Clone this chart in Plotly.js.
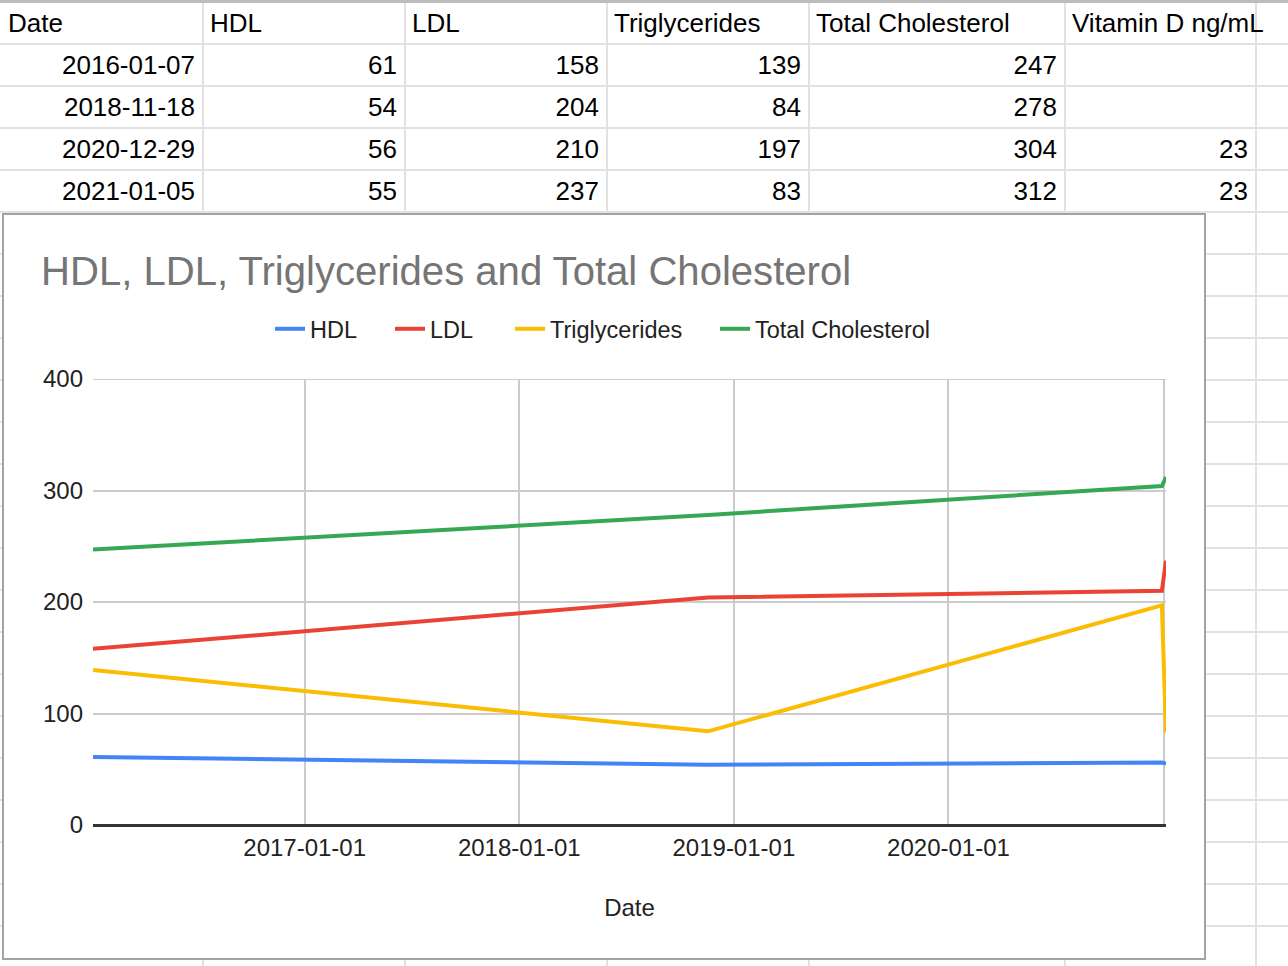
<!DOCTYPE html>
<html>
<head>
<meta charset="utf-8">
<script src="https://cdn.plot.ly/plotly-3.0.1.min.js"></script>
<style>
  html, body { margin: 0; padding: 0; background: #ffffff; overflow: hidden; }
  #sheet { position: absolute; left: 0; top: 0; width: 1288px; height: 966px; }
  #chartBox { position: absolute; left: 2px; top: 213px; width: 1204px; height: 747px;
              box-sizing: border-box; border: 2px solid #a3a3a3; background: #ffffff; }
  #chart { width: 1200px; height: 743px; }
</style>
</head>
<body>
<div id="sheet"></div>
<div id="chartBox"><div id="chart"></div></div>
<script>
// ---- data ----
const dates = ['2016-01-07', '2018-11-18', '2020-12-29', '2021-01-05'];
const hdl = [61, 54, 56, 55];
const ldl = [158, 204, 210, 237];
const triglycerides = [139, 84, 197, 83];
const totalCholesterol = [247, 278, 304, 312];
const vitaminD = [null, null, 23, 23];
const headers = ['Date', 'HDL', 'LDL', 'Triglycerides', 'Total Cholesterol', 'Vitamin D ng/mL'];
const seriesNames = ['HDL', 'LDL', 'Triglycerides', 'Total Cholesterol'];
const xTickVals = ['2017-01-01', '2018-01-01', '2019-01-01', '2020-01-01', '2021-01-01'];
const xTickText = ['2017-01-01', '2018-01-01', '2019-01-01', '2020-01-01', ''];
const yTickVals = [0, 100, 200, 300, 400];
const yTickText = ['0', '100', '200', '300', '400'];
const chartTitle = 'HDL, LDL, Triglycerides and Total Cholesterol';
const xAxisTitle = 'Date';

// ---- spreadsheet layout (positions, not data) ----
const FONT = 'Liberation Sans, Arial, sans-serif';
const colEdges = [1, 203, 405, 607, 809, 1065, 1256, 1288];
const rowTop = 1.5, rowH = 42, nRows = 24, textShift = 3;
const rowEdges = [];
for (let k = 0; k < nRows; k++) rowEdges.push(rowTop + k * rowH);

const sheetTraces = [];
sheetTraces.push({
  type: 'scatter', mode: 'text', hoverinfo: 'skip', showlegend: false,
  x: headers.map((h, i) => colEdges[i] + 7),
  y: headers.map(() => rowTop + rowH / 2 + textShift),
  text: headers, textposition: 'middle right',
  textfont: { family: FONT, size: 26, color: '#000000' }
});
const columns = [dates, hdl, ldl, triglycerides, totalCholesterol, vitaminD];
columns.forEach((col, i) => {
  sheetTraces.push({
    type: 'scatter', mode: 'text', hoverinfo: 'skip', showlegend: false,
    x: col.map(() => colEdges[i + 1] - 8),
    y: col.map((v, r) => rowTop + rowH * (r + 1) + rowH / 2 + textShift),
    text: col.map(v => (v === null ? '' : String(v))),
    textposition: 'middle left',
    textfont: { family: FONT, size: 26, color: '#000000' }
  });
});

Plotly.newPlot('sheet', sheetTraces, {
  width: 1288, height: 966,
  margin: { l: 0, r: 0, t: 0, b: 0 },
  paper_bgcolor: '#ffffff', plot_bgcolor: '#ffffff',
  showlegend: false,
  xaxis: { range: [0, 1288], tickvals: colEdges.slice(0, 7), showticklabels: false, ticks: '',
           showgrid: true, gridcolor: '#e1e1e1', gridwidth: 2, zeroline: false, fixedrange: true },
  yaxis: { range: [966, 0], tickvals: rowEdges, showticklabels: false, ticks: '',
           showgrid: true, gridcolor: '#e1e1e1', gridwidth: 2, zeroline: false, fixedrange: true },
  shapes: [
    { type: 'line', xref: 'paper', yref: 'paper', x0: 0, x1: 1, y0: 0.9985, y1: 0.9985,
      line: { color: '#bdbdbd', width: 3 } }
  ]
}, { staticPlot: true, displayModeBar: false });

// ---- chart ----
const colors = ['#4285f4', '#ea4335', '#fbbc04', '#34a853'];
const legendIds = ['legend', 'legend2', 'legend3', 'legend4'];
const legendSwatchX = [271, 391, 511, 716];   // px inside the chart box
const seriesValues = [hdl, ldl, triglycerides, totalCholesterol];
const traces = seriesValues.map((vals, i) => ({
  type: 'scatter', mode: 'lines', name: seriesNames[i],
  x: dates, y: vals, legend: legendIds[i],
  line: { color: colors[i], width: 4 },
  hoverinfo: 'skip'
}));

const layout = {
  width: 1200, height: 743,
  margin: { l: 89, r: 38, t: 164, b: 133 },
  paper_bgcolor: '#ffffff', plot_bgcolor: '#ffffff',
  font: { family: FONT, color: '#222222' },
  title: {
    text: chartTitle, xref: 'container', yref: 'container',
    x: 37 / 1200, xanchor: 'left', y: 1 - 56 / 743, yanchor: 'middle',
    font: { family: FONT, size: 40.1, color: '#757575' }
  },
  showlegend: true,
  xaxis: {
    type: 'date', range: [dates[0], dates[dates.length - 1]],
    tickmode: 'array', tickvals: xTickVals, ticktext: xTickText,
    showgrid: true, gridcolor: '#cccccc', gridwidth: 2,
    zeroline: false, showline: false, ticks: '', ticklabelstandoff: 6,
    tickfont: { family: FONT, size: 24, color: '#222222' },
    title: { text: xAxisTitle, standoff: 39, font: { family: FONT, size: 24, color: '#222222' } },
    fixedrange: true
  },
  yaxis: {
    range: [0, 400], tickmode: 'array', tickvals: yTickVals, ticktext: yTickText,
    showgrid: true, gridcolor: '#cccccc', gridwidth: 2,
    zeroline: true, zerolinecolor: '#333333', zerolinewidth: 3,
    showline: false, ticks: '', ticklabelstandoff: 9,
    tickfont: { family: FONT, size: 24, color: '#222222' },
    fixedrange: true
  },
  shapes: [
    { type: 'line', xref: 'paper', yref: 'y', x0: 0, x1: 1, y0: yTickVals[yTickVals.length - 1],
      y1: yTickVals[yTickVals.length - 1], layer: 'below', line: { color: '#cccccc', width: 2 } }
  ]
};
legendIds.forEach((id, i) => {
  layout[id] = {
    orientation: 'h', xref: 'container', yref: 'container',
    x: (legendSwatchX[i] - 5) / 1200, xanchor: 'left', y: 1 - 114 / 743, yanchor: 'middle',
    font: { family: FONT, size: 23.5, color: '#222222' },
    bgcolor: 'rgba(0,0,0,0)', borderwidth: 0, itemclick: false, itemdoubleclick: false
  };
});

Plotly.newPlot('chart', traces, layout, { staticPlot: true, displayModeBar: false });
</script>
</body>
</html>
